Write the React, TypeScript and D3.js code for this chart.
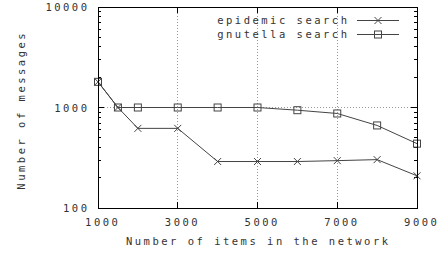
import React from "react";
import * as d3 from "d3";

const items = [1000, 1500, 2000, 3000, 4000, 5000, 6000, 7000, 8000, 9000];
const epidemic = [1800, 1000, 620, 620, 290, 290, 290, 296, 303, 209];
const gnutella = [1800, 1000, 1000, 1000, 1000, 1000, 940, 872, 663, 437];
const xTicks = [1000, 3000, 5000, 7000, 9000];
const yTicks = [100, 1000, 10000];

const W = 443;
const H = 256;
const m = { left: 98, right: 417, top: 7, bottom: 208 };
const font = "'DejaVu Sans Mono', monospace";
const fs = 10.5;
const ls = 2.5;
const lineColor = "#444";

const App = () => {
  const x = d3.scaleLinear().domain([1000, 9000]).range([m.left, m.right]);
  const y = d3.scaleLog().domain([100, 10000]).range([m.bottom, m.top]);

  const line = d3
    .line<number>()
    .x((d, i) => x(items[i]))
    .y((d) => y(d));

  const minor: number[] = [];
  [100, 1000].forEach((dec) => {
    for (let k = 2; k <= 9; k++) minor.push(dec * k);
  });

  const cross = (cx: number, cy: number, key: string) => (
    <path
      key={key}
      d={`M${cx - 3.5},${cy - 3.5}L${cx + 3.5},${cy + 3.5}M${cx - 3.5},${cy + 3.5}L${cx + 3.5},${cy - 3.5}`}
      stroke={lineColor}
      strokeWidth={1}
    />
  );
  const square = (cx: number, cy: number, key: string) => (
    <rect
      key={key}
      x={cx - 3.5}
      y={cy - 3.5}
      width={7}
      height={7}
      fill="none"
      stroke={lineColor}
      strokeWidth={1}
    />
  );

  const textStyle = { fontFamily: font, fontSize: fs, letterSpacing: ls, fill: "#333" };

  return (
    <svg width={W} height={H} style={{ position: "absolute", left: 0, top: 0 }}>
      <rect width={W} height={H} fill="#fff" />
      {/* grid */}
      {xTicks.slice(1, -1).map((t) => (
        <line
          key={"gx" + t}
          x1={x(t)}
          x2={x(t)}
          y1={m.top}
          y2={m.bottom}
          stroke="#999"
          strokeDasharray="1,2"
          shapeRendering="crispEdges"
        />
      ))}
      <line
        x1={m.left}
        x2={m.right}
        y1={y(1000)}
        y2={y(1000)}
        stroke="#999"
        strokeDasharray="1,2"
        shapeRendering="crispEdges"
      />
      {/* ticks */}
      <g stroke="#000" shapeRendering="crispEdges">
        {xTicks.map((t) => (
          <g key={"tx" + t}>
            <line x1={x(t)} x2={x(t)} y1={m.bottom} y2={m.bottom - 6} />
            <line x1={x(t)} x2={x(t)} y1={m.top} y2={m.top + 6} />
          </g>
        ))}
        {yTicks.map((t) => (
          <g key={"ty" + t}>
            <line x1={m.left} x2={m.left + 6} y1={y(t)} y2={y(t)} />
            <line x1={m.right} x2={m.right - 6} y1={y(t)} y2={y(t)} />
          </g>
        ))}
        {minor.map((t) => (
          <g key={"mn" + t}>
            <line x1={m.left} x2={m.left + 3} y1={y(t)} y2={y(t)} />
            <line x1={m.right} x2={m.right - 3} y1={y(t)} y2={y(t)} />
          </g>
        ))}
      </g>
      {/* data */}
      <path d={line(gnutella) || ""} fill="none" stroke={lineColor} strokeWidth={1} />
      <path d={line(epidemic) || ""} fill="none" stroke={lineColor} strokeWidth={1} />
      {epidemic.map((v, i) => cross(x(items[i]), y(v), "e" + i))}
      {gnutella.map((v, i) => square(x(items[i]), y(v), "g" + i))}
      {/* frame */}
      <rect
        x={m.left}
        y={m.top}
        width={m.right - m.left}
        height={m.bottom - m.top}
        fill="none"
        stroke="#000"
        shapeRendering="crispEdges"
      />
      {/* tick labels */}
      {yTicks.map((t) => (
        <text key={"ly" + t} x={87 + ls} y={y(t) + 4} textAnchor="end" style={textStyle}>
          {t}
        </text>
      ))}
      {xTicks.map((t) => (
        <text key={"lx" + t} x={x(t) + 3.5 + ls / 2} y={226} textAnchor="middle" style={textStyle}>
          {t}
        </text>
      ))}
      <text x={257 + ls / 2} y={245} textAnchor="middle" style={textStyle}>
        Number of items in the network
      </text>
      <text
        transform={`translate(25,${109 + ls / 2}) rotate(-90)`}
        textAnchor="middle"
        style={textStyle}
      >
        Number of messages
      </text>
      {/* legend */}
      <text x={347 + ls} y={24} textAnchor="end" style={textStyle}>
        epidemic search
      </text>
      <line x1={357} x2={399} y1={20.5} y2={20.5} stroke={lineColor} />
      {cross(378, 20.5, "le")}
      <text x={347 + ls} y={38} textAnchor="end" style={textStyle}>
        gnutella search
      </text>
      <line x1={357} x2={399} y1={34.5} y2={34.5} stroke={lineColor} />
      {square(378, 34.5, "lg")}
    </svg>
  );
};

export default App;
